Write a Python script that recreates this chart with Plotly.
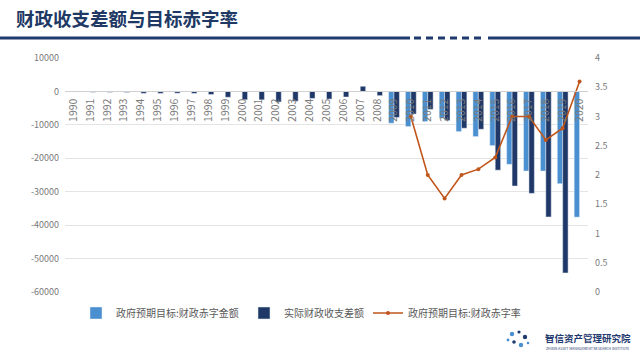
import plotly.graph_objects as go

years = [str(y) for y in range(1990, 2021)]

# 政府预期目标:财政赤字金额 (亿元, negative = deficit)
target_deficit = [None] * 19 + [-9500, -10500, -9000, -8000, -12000, -13500,
                                -16200, -21800, -23800, -23800, -27600, -37600]

# 实际财政收支差额 (亿元)
actual_gap = [-146, -237, -259, -293, -575, -582, -530, -582, -922, -1744,
              -2491, -2517, -3150, -2935, -2090, -2281, -1663, 1540, -1262,
              -7782, -6773, -5373, -8699, -11002, -11313, -23551, -28289,
              -30493, -37554, -54300, None]

# 政府预期目标:财政赤字率 (%)
target_rate = [None] * 20 + [3.0, 2.0, 1.6, 2.0, 2.1, 2.3, 3.0, 3.0, 2.6, 2.8, 3.6]

left_ticks = [10000, 0, -10000, -20000, -30000, -40000, -50000, -60000]
right_ticks = [0, 0.5, 1, 1.5, 2, 2.5, 3, 3.5, 4]

LIGHT = "#4A8FCF"
DARK = "#1F3867"
LINE = "#C0561C"
GREY = "#7A7A7A"
FONT = "Noto Sans CJK SC"

L, R, T, B = 65, 52, 58, 68
PW, PH = 640 - L - R, 360 - T - B


def px(xp):
    return (xp - L) / PW


def py(yp):
    return (360 - B - yp) / PH


fig = go.Figure()
fig.add_trace(go.Bar(x=years, y=target_deficit, name="政府预期目标:财政赤字金额",
                     marker_color=LIGHT, yaxis="y", legend="legend"))
fig.add_trace(go.Bar(x=years, y=actual_gap, name="实际财政收支差额",
                     marker_color=DARK, yaxis="y", legend="legend2"))
fig.add_trace(go.Scatter(x=years, y=target_rate, name="政府预期目标:财政赤字率",
                         mode="lines+markers", yaxis="y2", legend="legend3",
                         line=dict(color=LINE, width=1.6),
                         marker=dict(color=LINE, size=4)))

ymin, ymax = -60000, 10000
zero_pos = (0 - ymin) / (ymax - ymin)

leg_common = dict(orientation="h", xanchor="left", yanchor="middle", y=py(313),
                  font=dict(size=10, color="#595959", family=FONT),
                  itemwidth=30, bgcolor="rgba(0,0,0,0)", borderwidth=0)

fig.update_layout(
    width=640, height=360,
    margin=dict(l=L, r=R, t=T, b=B, autoexpand=False),
    paper_bgcolor="white", plot_bgcolor="white",
    font=dict(family=FONT, color=GREY, size=9),
    barmode="group", bargap=0.36, bargroupgap=0.0,
    showlegend=True,
    legend=dict(x=px(76), **leg_common),
    legend2=dict(x=px(244), **leg_common),
    legend3=dict(x=px(368), **leg_common),
    xaxis=dict(type="category", anchor="free", position=zero_pos,
               range=[-0.5, len(years) - 0.5], autorange=False,
               tickangle=-90, tickfont=dict(size=10.5, color=GREY),
               ticklabelstandoff=2,
               showline=True, linecolor="#D0D0D0", linewidth=1,
               showgrid=False, ticks="", ticklen=0),
    yaxis=dict(range=[ymin, ymax], tickvals=left_ticks,
               ticktext=[str(v) for v in left_ticks],
               showgrid=True, gridcolor="#E4E4E4", gridwidth=1,
               zeroline=False, showline=False, ticklabelstandoff=5,
               tickfont=dict(size=9, color=GREY), ticks="", ticklen=0),
    yaxis2=dict(range=[0, 4], tickvals=right_ticks,
                ticktext=[("%g" % v) for v in right_ticks],
                overlaying="y", side="right", showgrid=False, zeroline=False,
                ticklabelstandoff=6,
                tickfont=dict(size=9, color=GREY), ticks="", ticklen=0),
)

# Title
fig.add_annotation(text="<b>财政收支差额与目标赤字率</b>", xref="paper", yref="paper",
                   x=px(14), y=py(18.5), xanchor="left", yanchor="middle",
                   showarrow=False,
                   font=dict(size=18.5, color="#203864", family=FONT))

# Header rule: solid, dashed, solid
yl = py(38)
fig.add_shape(type="line", xref="paper", yref="paper", x0=px(0), x1=px(410),
              y0=yl, y1=yl, line=dict(color="#1F3A6E", width=3))
fig.add_shape(type="line", xref="paper", yref="paper", x0=px(414), x1=px(484),
              y0=yl, y1=yl, line=dict(color="#1F3A6E", width=3, dash="7px,5px"))
fig.add_shape(type="line", xref="paper", yref="paper", x0=px(488), x1=px(640),
              y0=yl, y1=yl, line=dict(color="#1F3A6E", width=3))

# Logo
fig.add_annotation(text="<b>智信资产管理研究院</b>", xref="paper", yref="paper",
                   x=px(543), y=py(338), xanchor="left", yanchor="middle",
                   showarrow=False, font=dict(size=9.5, color="#1F3A6E", family=FONT))
fig.add_annotation(text="ZHIXIN ASSET MANAGEMENT RESEARCH INSTITUTE", xref="paper", yref="paper",
                   x=px(544), y=py(348), xanchor="left", yanchor="middle",
                   showarrow=False, font=dict(size=3.5, color="#1F3A6E", family=FONT))
for (cx, cy, r, col) in [(512, 334, 2.2, "#4A8FCF"), (519, 332, 1.6, "#1F3A6E"),
                         (525, 337, 2.2, "#1F3A6E"), (514, 342, 1.8, "#1F3A6E"),
                         (521, 345, 2.2, "#4A8FCF"), (508, 340, 1.4, "#4A8FCF"),
                         (528, 343, 1.3, "#4A8FCF")]:
    fig.add_shape(type="circle", xref="paper", yref="paper",
                  x0=px(cx - r), x1=px(cx + r),
                  y0=py(cy + r), y1=py(cy - r),
                  line=dict(width=0), fillcolor=col)

fig.write_html("out.html", config={"displayModeBar": False},
               post_script="document.body.style.margin='0';document.body.style.padding='0';")
